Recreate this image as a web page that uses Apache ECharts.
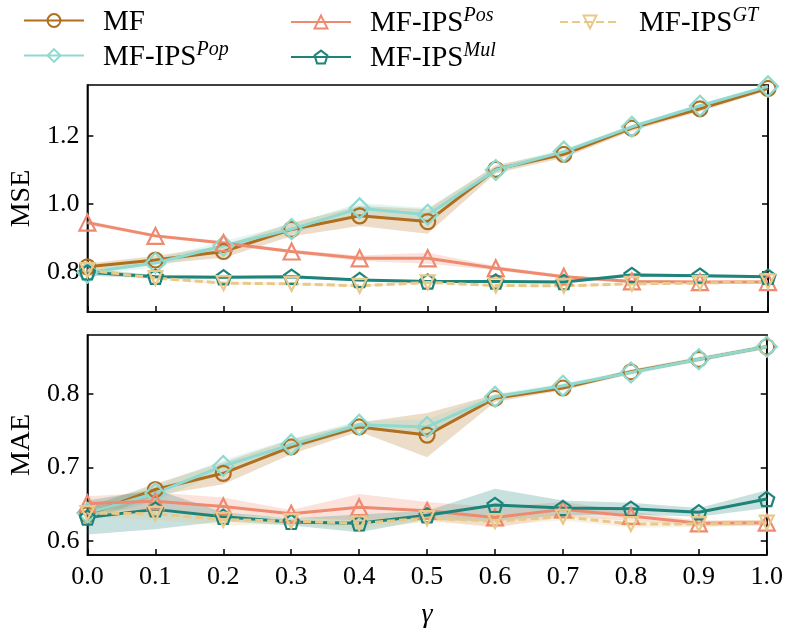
<!DOCTYPE html>
<html>
<head>
<meta charset="UTF-8">
<script src="https://cdn.jsdelivr.net/npm/echarts@6/dist/echarts.min.js"></script>
<style>
  html, body { margin: 0; padding: 0; background: #fff; }
  #main { width: 786px; height: 630px; }
</style>
</head>
<body>
<div id="main"></div>
<script>
// gamma values on the x axis
var gammas = ['0.0', '0.1', '0.2', '0.3', '0.4', '0.5', '0.6', '0.7', '0.8', '0.9', '1.0'];

// MSE (top panel): mean and std per method
var mseMF     = [0.815, 0.835, 0.860, 0.925, 0.965, 0.948, 1.102, 1.146, 1.223, 1.280, 1.340];
var mseMFsd   = [0.010, 0.012, 0.018, 0.020, 0.030, 0.036, 0.012, 0.010, 0.008, 0.008, 0.006];
var msePop    = [0.798, 0.826, 0.877, 0.926, 0.987, 0.968, 1.100, 1.154, 1.227, 1.289, 1.346];
var msePopsd  = [0.008, 0.012, 0.014, 0.014, 0.016, 0.020, 0.010, 0.008, 0.006, 0.006, 0.005];
var msePos    = [0.945, 0.906, 0.885, 0.860, 0.840, 0.840, 0.811, 0.786, 0.772, 0.770, 0.770];
var msePossd  = [0.006, 0.005, 0.005, 0.005, 0.008, 0.016, 0.006, 0.005, 0.004, 0.004, 0.004];
var mseMul    = [0.799, 0.786, 0.784, 0.786, 0.776, 0.772, 0.772, 0.770, 0.791, 0.789, 0.786];
var mseMulsd  = [0.010, 0.005, 0.004, 0.004, 0.004, 0.004, 0.004, 0.004, 0.005, 0.004, 0.004];
var mseGT     = [0.805, 0.782, 0.767, 0.765, 0.759, 0.769, 0.760, 0.759, 0.765, 0.767, 0.772];
var mseGTsd   = [0.006, 0.005, 0.004, 0.004, 0.004, 0.004, 0.004, 0.004, 0.004, 0.004, 0.004];

// MAE (bottom panel)
var maeMF     = [0.636, 0.670, 0.692, 0.728, 0.755, 0.744, 0.794, 0.808, 0.830, 0.847, 0.864];
var maeMFsd   = [0.010, 0.008, 0.015, 0.010, 0.006, 0.030, 0.005, 0.003, 0.003, 0.003, 0.003];
var maePop    = [0.638, 0.665, 0.702, 0.731, 0.758, 0.755, 0.796, 0.811, 0.829, 0.847, 0.864];
var maePopsd  = [0.010, 0.010, 0.008, 0.008, 0.005, 0.010, 0.004, 0.003, 0.003, 0.003, 0.003];
var maePos    = [0.651, 0.654, 0.647, 0.637, 0.646, 0.641, 0.632, 0.643, 0.634, 0.624, 0.625];
var maePossd  = [0.010, 0.012, 0.012, 0.005, 0.018, 0.012, 0.014, 0.010, 0.006, 0.004, 0.004];
var maeMul    = [0.632, 0.643, 0.633, 0.626, 0.624, 0.635, 0.649, 0.645, 0.644, 0.639, 0.657];
var maeMulsd  = [0.023, 0.027, 0.006, 0.005, 0.012, 0.006, 0.022, 0.010, 0.008, 0.006, 0.012];
var maeGT     = [0.638, 0.637, 0.629, 0.627, 0.624, 0.631, 0.627, 0.633, 0.623, 0.623, 0.625];
var maeGTsd   = [0.005, 0.008, 0.008, 0.004, 0.008, 0.005, 0.006, 0.005, 0.005, 0.004, 0.004];

var mseTicks = [0.8, 1.0, 1.2];
var maeTicks = [0.6, 0.7, 0.8];

var FONT = "'Liberation Serif', 'DejaVu Serif', serif";
var pentagon = 'path://M50,0 L97.6,34.5 L79.4,90.5 L20.6,90.5 L2.4,34.5 Z';

var methods = [
  { name: 'MF',         color: '#b06f1e', symbol: 'circle',   rot: 0,   size: 15, dash: 'solid' },
  { name: 'MF-IPS Pop', color: '#8fd9cf', symbol: 'diamond',  rot: 0,   size: 20, dash: 'solid' },
  { name: 'MF-IPS Pos', color: '#ee8a70', symbol: 'triangle', rot: 0,   size: 16, dash: 'solid' },
  { name: 'MF-IPS Mul', color: '#1e8479', symbol: pentagon,   rot: 0,   size: 15, dash: 'solid' },
  { name: 'MF-IPS GT',  color: '#e8c98a', symbol: 'triangle', rot: 180, size: 14, dash: [8, 4] }
];
var mseData = [[mseMF, mseMFsd], [msePop, msePopsd], [msePos, msePossd], [mseMul, mseMulsd], [mseGT, mseGTsd]];
var maeData = [[maeMF, maeMFsd], [maePop, maePopsd], [maePos, maePossd], [maeMul, maeMulsd], [maeGT, maeGTsd]];

function hexA(hex, a) {
  var r = parseInt(hex.substr(1, 2), 16), g = parseInt(hex.substr(3, 2), 16), b = parseInt(hex.substr(5, 2), 16);
  return 'rgba(' + r + ',' + g + ',' + b + ',' + a + ')';
}

var series = [];
function addPanel(idx, data) {
  // shaded std bands first, so lines sit on top
  methods.forEach(function (m, k) {
    var mean = data[k][0], sd = data[k][1];
    var stack = 'band' + idx + '_' + k;
    series.push({
      name: '_low', type: 'line', xAxisIndex: idx, yAxisIndex: idx * 2, stack: stack,
      data: mean.map(function (v, i) { return +(v - sd[i]).toFixed(4); }),
      symbol: 'none', lineStyle: { opacity: 0 }, silent: true, z: 1
    });
    series.push({
      name: '_band', type: 'line', xAxisIndex: idx, yAxisIndex: idx * 2, stack: stack,
      data: sd.map(function (s) { return +(2 * s).toFixed(4); }),
      symbol: 'none', lineStyle: { opacity: 0 }, silent: true, z: 1,
      areaStyle: { color: hexA(m.color, 0.35), origin: 'start' }
    });
  });
  methods.forEach(function (m, k) {
    series.push({
      name: m.name, type: 'line', xAxisIndex: idx, yAxisIndex: idx * 2,
      data: data[k][0],
      symbol: m.symbol, symbolSize: m.size, symbolRotate: m.rot, symbolKeepAspect: true,
      showAllSymbol: true,
      lineStyle: { color: m.color, width: 3, type: m.dash },
      itemStyle: { color: 'rgba(255,255,255,0)', borderColor: m.color, borderWidth: 2.2 },
      z: 3
    });
  });
}
addPanel(0, mseData);
addPanel(1, maeData);

function yAxes(gridIdx, min, max, ticks, name) {
  var common = {
    type: 'value', gridIndex: gridIdx, min: min, max: max,
    splitLine: { show: false },
    axisLine: { show: true, lineStyle: { color: '#000', width: 1.5 } }
  };
  return [
    Object.assign({}, common, {
      position: 'left',
      name: name, nameLocation: 'middle', nameGap: 50, nameRotate: 90,
      nameTextStyle: { fontFamily: FONT, fontSize: 28, color: '#000' },
      axisTick: { show: true, inside: true, length: 6, lineStyle: { color: '#000', width: 1.5 }, customValues: ticks },
      axisLabel: { fontFamily: FONT, fontSize: 26, color: '#000', margin: 8, customValues: ticks,
                   formatter: function (v) { return v.toFixed(1); } }
    }),
    Object.assign({}, common, {
      position: 'right',
      axisTick: { show: true, inside: true, length: 6, lineStyle: { color: '#000', width: 1.5 }, customValues: ticks },
      axisLabel: { show: false }
    })
  ];
}

function xAxis(gridIdx, showLabels) {
  return {
    type: 'category', gridIndex: gridIdx, data: gammas, boundaryGap: false,
    axisLine: { show: true, lineStyle: { color: '#000', width: 1.5 } },
    axisTick: { show: true, inside: true, length: 6, alignWithLabel: true, lineStyle: { color: '#000', width: 1.5 } },
    axisLabel: { show: showLabels, fontFamily: FONT, fontSize: 26, color: '#000', margin: 9, interval: 0 },
    splitLine: { show: false },
    name: showLabels ? 'γ' : '', nameLocation: 'middle', nameGap: 46,
    nameTextStyle: { fontFamily: FONT, fontSize: 28, fontStyle: 'italic', color: '#000' }
  };
}

var rich = {
  g: { width: 14 },
  m: { fontFamily: FONT, fontSize: 29, color: '#000', lineHeight: 32, verticalAlign: 'bottom' },
  s: { fontFamily: FONT, fontSize: 20, fontStyle: 'italic', color: '#000', lineHeight: 32, verticalAlign: 'top', padding: [0, 0, 12, 0] }
};
function legendFmt(name) {
  var parts = name.split(' ');
  if (parts.length === 1) return '{g|}{m|' + name + '}';
  return '{g|}{m|' + parts[0] + '}{s|' + parts[1] + '}';
}
function legend(left, names) {
  return {
    left: left, top: 1, orient: 'vertical', itemGap: 3, itemWidth: 60, itemHeight: 16,
    data: names, formatter: legendFmt,
    textStyle: { rich: rich, fontFamily: FONT, fontSize: 29 },
    selectedMode: false
  };
}

var myChart = echarts.init(document.getElementById('main'), null, { renderer: 'canvas' });
var option = {
  animation: false,
  backgroundColor: '#fff',
  textStyle: { fontFamily: FONT },
  legend: [
    legend(18, ['MF', 'MF-IPS Pop']),
    legend(285, ['MF-IPS Pos', 'MF-IPS Mul']),
    legend(554, ['MF-IPS GT'])
  ],
  grid: [
    { left: 84, right: 18, top: 85, height: 227, show: true, borderColor: '#000', borderWidth: 1.5 },
    { left: 84, right: 18, top: 335, height: 227, show: true, borderColor: '#000', borderWidth: 1.5 }
  ],
  xAxis: [xAxis(0, false), xAxis(1, true)],
  yAxis: yAxes(0, 0.682, 1.35, mseTicks, 'MSE').concat(yAxes(1, 0.581, 0.88, maeTicks, 'MAE')),
  series: series
};
myChart.setOption(option);
</script>
</body>
</html>
